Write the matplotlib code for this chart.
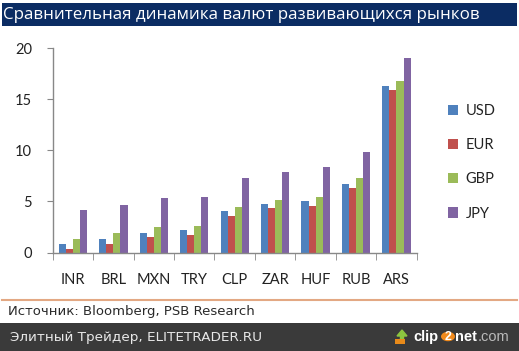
import matplotlib
matplotlib.use("Agg")
import matplotlib.pyplot as plt
import numpy as np
from matplotlib.patches import Rectangle, Circle, FancyArrow

categories = ["INR", "BRL", "MXN", "TRY", "CLP", "ZAR", "HUF", "RUB", "ARS"]
series_names = ["USD", "EUR", "GBP", "JPY"]
usd = [0.88, 1.34, 1.92, 2.18, 4.04, 4.79, 5.05, 6.75, 16.3]
eur = [0.33, 0.88, 1.47, 1.73, 3.62, 4.34, 4.60, 6.33, 15.88]
gbp = [1.34, 1.92, 2.48, 2.61, 4.47, 5.15, 5.45, 7.34, 16.76]
jpy = [4.17, 4.66, 5.32, 5.48, 7.34, 7.90, 8.35, 9.88, 19.05]
yticks = [0, 5, 10, 15, 20]
title = "Сравнительная динамика валют развивающихся рынков"
source = "Источник: Bloomberg, PSB Research"
footer = "Элитный Трейдер, ELITETRADER.RU"

colors = ["#4F81BD", "#C0504D", "#9BBB59", "#8064A2"]
W, H = 519, 351
fig = plt.figure(figsize=(W / 100, H / 100), dpi=100)
fig.patch.set_facecolor("white")

def fx(px):
    return px / W

def fy(py):
    return 1 - py / H

# title bar
fig.patches.append(Rectangle((fx(2), fy(26)), fx(515), 23 / H, transform=fig.transFigure,
                             facecolor="#0b2c63", edgecolor="none", zorder=0))
fig.text(fx(3), fy(15), title, color="white", fontsize=12.2, va="center", ha="left",
         family=["Open Sans", "DejaVu Sans"])

# axes
ax = fig.add_axes([fx(52.7), fy(252.5), fx(364), 204.2 / H])
x = np.arange(len(categories))
bw = 0.175
data = [usd, eur, gbp, jpy]
for i, (vals, c, n) in enumerate(zip(data, colors, series_names)):
    ax.bar(x + (i - 1.5) * bw, vals, width=bw, color=c, label=n, edgecolor="none")
ax.set_xlim(-0.5, len(categories) - 0.5)
ax.set_ylim(0, 20)
ax.set_yticks(yticks)
ax.set_yticklabels([str(t) for t in yticks])
ax.set_xticks(x)
ax.set_xticklabels(categories)
ax.set_xticks(np.arange(len(categories) + 1) - 0.5, minor=True)
ax.tick_params(axis="x", which="major", length=0, pad=15)
ax.tick_params(axis="x", which="minor", length=5, direction="out", color="#888888")
ax.tick_params(axis="y", length=4, direction="out", color="#888888", pad=11)
for lab in ax.get_xticklabels() + ax.get_yticklabels():
    lab.set_fontsize(10.5)
    lab.set_family(["Lato", "DejaVu Sans"])
    lab.set_color("#222222")
for s in ["top", "right"]:
    ax.spines[s].set_visible(False)
for s in ["left", "bottom"]:
    ax.spines[s].set_color("#888888")
    ax.spines[s].set_linewidth(1)

leg = fig.legend(loc="upper left", bbox_to_anchor=(fx(435), fy(91)), frameon=False,
                 handlelength=0.7, handleheight=0.7, handletextpad=0.5, labelspacing=1.38,
                 prop={"family": ["Lato", "DejaVu Sans"], "size": 10.5})
for t in leg.get_texts():
    t.set_color("#222222")

# orange separator
fig.add_artist(plt.Line2D([fx(2), fx(517)], [fy(299.5), fy(299.5)], transform=fig.transFigure,
                          color="#e3a883", linewidth=1.5))
fig.text(fx(8), fy(312), source, color="#2a2a2a", fontsize=9.5, va="center", ha="left",
         family=["DejaVu Sans"])

# footer
fig.patches.append(Rectangle((0, 0), 1, (H - 322.5) / H, transform=fig.transFigure,
                             facecolor="#3a3a3a", edgecolor="none", zorder=0))
fig.text(fx(10), fy(337), footer, color="#e8e8e8", fontsize=9.7, va="center", ha="left",
         family=["DejaVu Sans"])
# clip2net logo
fig.patches.append(Rectangle((fx(395), fy(344)), fx(10), 5 / H, transform=fig.transFigure,
                             facecolor="#e88a1a", edgecolor="none", zorder=2))
fig.add_artist(FancyArrow(fx(402), fy(343), 0, 13 / H, width=fx(3), head_width=fx(10),
                          head_length=6 / H, transform=fig.transFigure, color="#8cc63f",
                          length_includes_head=True))
fig.text(fx(413), fy(337), "clip", color="white", fontsize=10.5, fontweight="bold",
         va="center", ha="left", family=["Liberation Sans"])
fig.patches.append(Circle((fx(448), fy(336.5)), 7 / W, transform=fig.transFigure,
                          facecolor="#f08a1c", edgecolor="none", zorder=2))
fig.text(fx(448), fy(337), "2", color="white", fontsize=9, fontweight="bold",
         va="center", ha="center", family=["Liberation Sans"], zorder=3)
fig.text(fx(455), fy(337), "net", color="white", fontsize=10.5, fontweight="bold",
         va="center", ha="left", family=["Liberation Sans"])
fig.text(fx(478), fy(337), ".com", color="#bbbbbb", fontsize=10.5,
         va="center", ha="left", family=["Liberation Sans"])

fig.savefig("out.png", dpi=100, facecolor="white")
